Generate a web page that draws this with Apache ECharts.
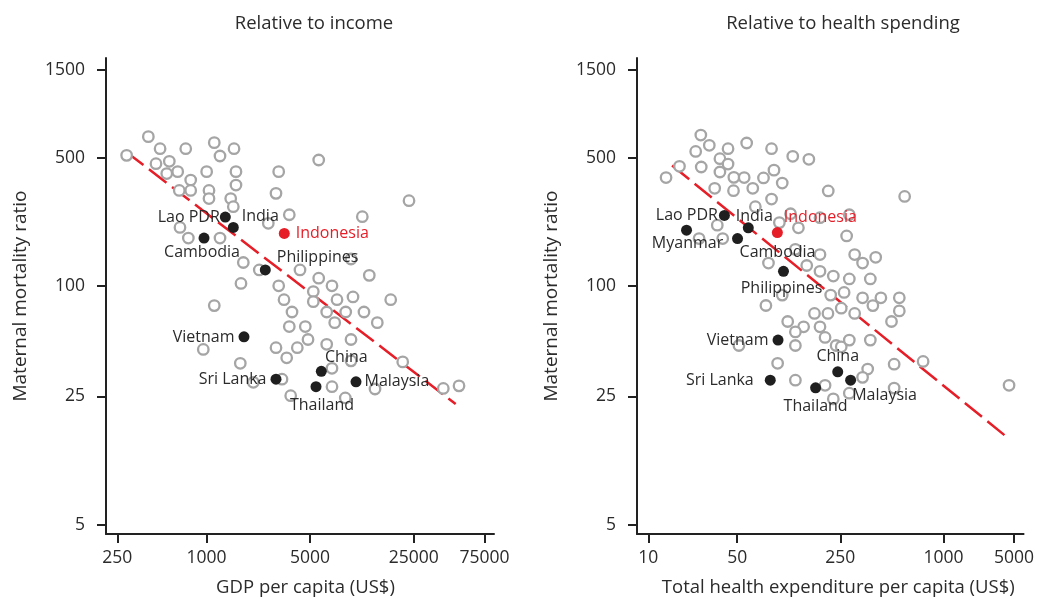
<!DOCTYPE html>
<html>
<head>
<meta charset="utf-8">
<script src="https://cdn.jsdelivr.net/npm/echarts@6/dist/echarts.min.js"></script>
<style>
html, body { margin: 0; padding: 0; background: #fff; }
#main { width: 1037px; height: 604px; }
</style>
</head>
<body>
<div id="main"></div>
<script>
// tick labels
var yTicks = [5, 25, 100, 500, 1500];
var gdpTicks = [250, 1000, 5000, 25000, 75000];
var theTicks = [10, 50, 250, 1000, 5000];

// left panel: GDP per capita vs MMR, all other countries
var gdpOther = [289, 405, 486, 724, 1128, 1533, 1233, 456, 561, 539,
  639, 1002, 1580, 3069, 5715, 782, 655, 782, 1039, 1039,
  1580, 1456, 1516, 2943, 23242, 3618, 11250, 2611, 662, 754,
  1233, 1771, 2270, 4273, 9440, 5715, 12540, 1708, 3069, 7024,
  5254, 3333, 5254, 7594, 9735, 17490, 1128, 3774, 6470, 8693,
  11547, 7328, 14200, 3618, 4640, 4840, 4098, 2943, 6470, 9440,
  951, 3475, 1690, 7024, 9440, 21080, 3230, 2069, 7024, 13705,
  3698, 8638, 39600, 50550];
var mmrOtherL = [514, 650, 559, 559, 603, 559, 510, 463, 477, 409,
  419, 419, 419, 419, 485, 377, 331, 331, 331, 299,
  354, 299, 270, 319, 291, 244, 238, 219, 208, 182,
  182, 134, 122, 122, 140, 110, 114, 103, 100, 100,
  93, 84, 82, 84, 87, 84, 78, 72, 72, 72,
  72, 63, 63, 60, 60, 51, 46, 46, 48, 51,
  45, 40.5, 37.8, 35.5, 39, 38.5, 31, 29.8, 28.2, 27.4,
  25.2, 24.5, 27.6, 28.5];

// left panel: highlighted countries
var namesL = ['Lao PDR', 'India', 'Cambodia', 'Philippines', 'Vietnam', 'Sri Lanka', 'China', 'Thailand', 'Malaysia'];
var gdpNamed = [1339, 1516, 962, 2492, 1790, 2943, 5950, 5480, 10200];
var mmrNamedL = [237, 208, 182, 122, 52.7, 31, 34.2, 28.2, 30];
var gdpIndo = 3348, mmrIndoL = 193;
var fitGdp = [286, 48000];
var fitMmrL = [538, 22.7];

// right panel: health expenditure per capita vs MMR, all other countries
var theOther = [25.9, 30.2, 23.6, 42.4, 58, 85.5, 119, 153, 36.6, 42.4,
  17.6, 26.1, 13.8, 36.6, 47.1, 55.8, 75.4, 88.8, 101, 33.3,
  46.8, 63.8, 207, 85.5, 593, 66.4, 34.9, 25.1, 38.5, 96.6,
  130, 115, 182, 282, 272, 124, 182, 303, 337, 402,
  81.5, 148, 182, 224, 282, 374, 101, 215, 263, 337,
  431, 552, 387, 552, 253, 303, 167, 206, 497, 78.3,
  110, 141, 182, 124, 197, 234, 253, 282, 374, 124,
  51.4, 94, 361, 337, 515, 760, 124, 197, 224, 282,
  515, 4467];
var mmrOtherR = [663, 583, 540, 559, 600, 559, 508, 489, 493, 461,
  448, 444, 389, 417, 390, 389, 387, 427, 363, 340,
  330, 340, 329, 297, 307, 270, 214, 181, 181, 221,
  207, 247, 235, 244, 187, 158, 148, 148, 133, 143,
  133, 129, 120, 113, 109, 109, 89, 89, 92, 86,
  86, 86, 78, 73, 75.5, 70.7, 70.7, 70.7, 63.9, 78.1,
  63.9, 59.8, 59.8, 56.1, 52.3, 47.3, 46.5, 50.6, 50.6, 47.3,
  47.3, 37.8, 35.2, 31.7, 37.4, 38.7, 30.6, 28.7, 24.2, 26,
  27.7, 28.7];

// right panel: highlighted countries
var namesR = ['Lao PDR', 'India', 'Myanmar', 'Cambodia', 'Philippines', 'Vietnam', 'Sri Lanka', 'China', 'Malaysia', 'Thailand'];
var theNamed = [39.7, 59.5, 20, 50.3, 103, 94.6, 83.8, 240, 287, 170];
var mmrNamedR = [242, 207, 201, 181, 120, 50.6, 30.6, 34, 30.6, 27.8];
var theIndo = 93.6, mmrIndoR = 195;
var fitThe = [15.4, 4506];
var fitMmrR = [453, 14.6];

var FONT = 'Open Sans';
var TXT = '#2b2b2b';
var GREY = '#a5a5a5';
var RED = '#e61e28';
var LABEL_SIZE = 16;

// label placement for the named dots
var labL = {
  'Lao PDR': { position: 'left', distance: 0 },
  'India': { position: 'right', distance: 3, offset: [0, -11] },
  'Cambodia': { position: 'bottom', distance: 1, offset: [-2, 0] },
  'Philippines': { position: 'right', distance: 6, offset: [0, -13] },
  'Vietnam': { position: 'left', distance: 4, offset: [0, 1] },
  'Sri Lanka': { position: 'left', distance: 4 },
  'China': { position: 'top', distance: 0, offset: [25, 0] },
  'Thailand': { position: 'bottom', distance: 5, offset: [6, 0] },
  'Malaysia': { position: 'right', distance: 3 }
};
var labR = {
  'Lao PDR': { position: 'left', distance: 1 },
  'India': { position: 'top', distance: 0, offset: [6, 2] },
  'Myanmar': { position: 'bottom', distance: 0, offset: [1, 0] },
  'Cambodia': { position: 'bottom', distance: 0, offset: [40, 0] },
  'Philippines': { position: 'bottom', distance: 4, offset: [-2, 0] },
  'Vietnam': { position: 'left', distance: 4 },
  'Sri Lanka': { position: 'left', distance: 11 },
  'China': { position: 'top', distance: 2 },
  'Malaysia': { position: 'bottom', distance: 2, offset: [34, 0] },
  'Thailand': { position: 'bottom', distance: 5 }
};

function lg(v) { return Math.log10(v); }

// the right panel's ticks sit where the left panel's ticks sit
function theToPos(v) {
  var lv = lg(v), i = 0;
  while (i < theTicks.length - 2 && lv > lg(theTicks[i + 1])) i++;
  var a = lg(theTicks[i]), b = lg(theTicks[i + 1]);
  var pa = lg(gdpTicks[i]), pb = lg(gdpTicks[i + 1]);
  return pa + (lv - a) / (b - a) * (pb - pa);
}

function pairs(xs, ys, fx) {
  var out = [];
  for (var i = 0; i < xs.length; i++) out.push([fx(xs[i]), lg(ys[i])]);
  return out;
}

function named(names, xs, ys, fx, lab) {
  var out = [];
  for (var i = 0; i < names.length; i++) {
    var l = lab[names[i]];
    out.push({
      name: names[i],
      value: [fx(xs[i]), lg(ys[i])],
      label: {
        show: true, formatter: '{b}',
        position: l.position, distance: l.distance, offset: l.offset || [0, 0],
        fontFamily: FONT, fontSize: LABEL_SIZE, color: TXT
      }
    });
  }
  return out;
}

var X_MIN = 2.3217, X_MAX = 4.9398;
var Y_MIN = 0.6475, Y_MAX = 3.2415;

function xAxisOf(idx, ticks, fx, name, shift) {
  var vals = ticks.map(fx);
  return {
    gridIndex: idx, type: 'value', min: X_MIN, max: X_MAX,
    name: name, nameLocation: 'middle', nameGap: 44,
    nameTextStyle: { fontFamily: FONT, fontSize: 18.5, color: TXT, padding: [0, 0, 0, shift] },
    axisLine: { show: true, onZero: false, lineStyle: { color: '#222', width: 2 } },
    axisTick: { show: true, length: 9, customValues: vals, lineStyle: { color: '#222', width: 2 } },
    axisLabel: {
      customValues: vals, margin: 15, fontFamily: FONT, fontSize: 17.5, color: TXT,
      formatter: function (v) {
        for (var i = 0; i < vals.length; i++) if (Math.abs(vals[i] - v) < 1e-6) return String(ticks[i]);
        return '';
      }
    },
    splitLine: { show: false }
  };
}

function yAxisOf(idx) {
  var vals = yTicks.map(lg);
  return {
    gridIndex: idx, type: 'value', min: Y_MIN, max: Y_MAX,
    name: 'Maternal mortality ratio', nameLocation: 'middle', nameGap: 76, nameRotate: 90,
    nameTextStyle: { fontFamily: FONT, fontSize: 19, color: TXT },
    axisLine: { show: true, onZero: false, lineStyle: { color: '#222', width: 2 } },
    axisTick: { show: true, length: 9, customValues: vals, lineStyle: { color: '#222', width: 2 } },
    axisLabel: {
      customValues: vals, margin: 21, fontFamily: FONT, fontSize: 17.5, color: TXT,
      formatter: function (v) { return String(Math.round(Math.pow(10, v))); }
    },
    splitLine: { show: false }
  };
}

function panelSeries(idx, fx, xo, yo, nm, xs, ys, lab, xi, yi, fitx, fity) {
  return [
    {
      type: 'line', xAxisIndex: idx, yAxisIndex: idx, z: 1, silent: true,
      showSymbol: false, data: pairs(fitx, fity, fx),
      lineStyle: { color: RED, width: 2.5, type: [22, 7] }
    },
    {
      type: 'scatter', xAxisIndex: idx, yAxisIndex: idx, z: 2,
      symbol: 'circle', symbolSize: 10.5, data: pairs(xo, yo, fx),
      itemStyle: { color: '#fff', borderColor: GREY, borderWidth: 2.3, opacity: 1 }
    },
    {
      type: 'scatter', xAxisIndex: idx, yAxisIndex: idx, z: 3,
      symbol: 'circle', symbolSize: 11, data: named(nm, xs, ys, fx, lab),
      itemStyle: { color: '#1f1f1f', opacity: 1 }
    },
    {
      type: 'scatter', xAxisIndex: idx, yAxisIndex: idx, z: 3,
      symbol: 'circle', symbolSize: 11,
      data: [{ name: 'Indonesia', value: [fx(xi), lg(yi)] }],
      itemStyle: { color: RED, opacity: 1 },
      label: {
        show: true, formatter: '{b}', fontFamily: FONT, fontSize: LABEL_SIZE, color: RED,
        position: idx === 0 ? 'right' : 'top',
        distance: idx === 0 ? 6 : 2,
        offset: idx === 0 ? [0, 0] : [43, 0]
      }
    }
  ];
}

var chart = echarts.init(document.getElementById('main'), null, { renderer: 'canvas' });
var option = {
  animation: false,
  backgroundColor: '#fff',
  title: [
    { text: 'Relative to income', left: 309, top: 9, textAlign: 'center',
      textStyle: { fontFamily: FONT, fontSize: 18.5, fontWeight: 'normal', color: TXT } },
    { text: 'Relative to health spending', left: 838, top: 9, textAlign: 'center',
      textStyle: { fontFamily: FONT, fontSize: 18.5, fontWeight: 'normal', color: TXT } }
  ],
  grid: [
    { left: 106, width: 388, top: 58, bottom: 70 },
    { left: 637, width: 388, top: 58, bottom: 70 }
  ],
  xAxis: [
    xAxisOf(0, gdpTicks, lg, 'GDP per capita (US$)', 11),
    xAxisOf(1, theTicks, theToPos, 'Total health expenditure per capita (US$)', 16)
  ],
  yAxis: [yAxisOf(0), yAxisOf(1)],
  series: [].concat(
    panelSeries(0, lg, gdpOther, mmrOtherL, namesL, gdpNamed, mmrNamedL, labL, gdpIndo, mmrIndoL, fitGdp, fitMmrL),
    panelSeries(1, theToPos, theOther, mmrOtherR, namesR, theNamed, mmrNamedR, labR, theIndo, mmrIndoR, fitThe, fitMmrR)
  )
};
chart.setOption(option);
</script>
</body>
</html>
